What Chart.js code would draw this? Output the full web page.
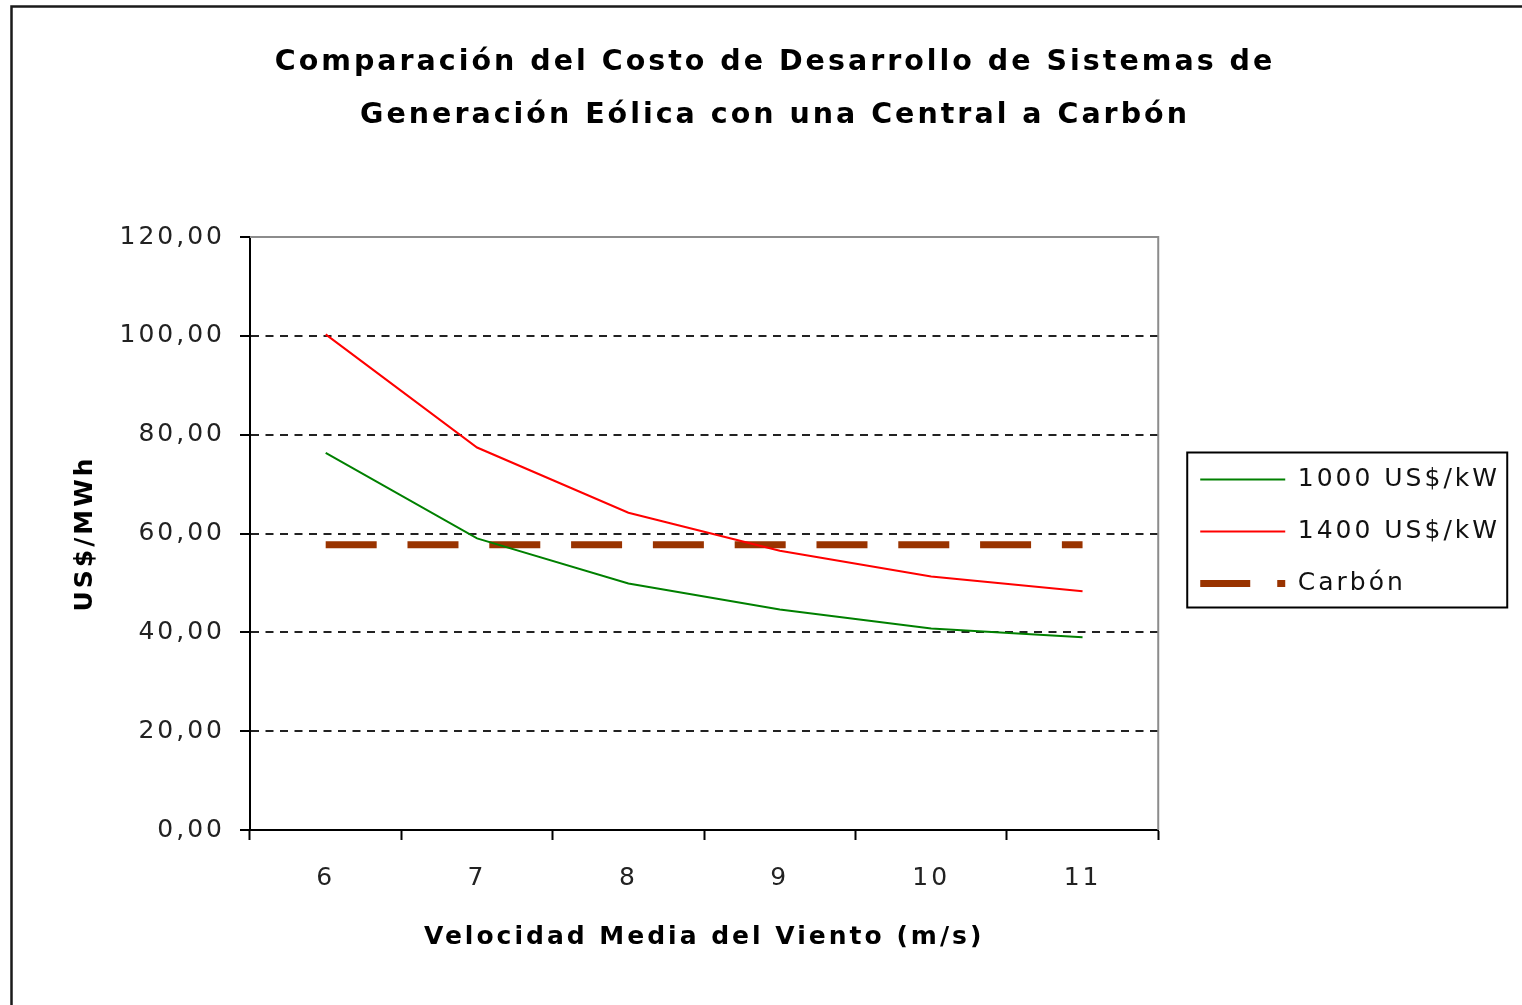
<!DOCTYPE html>
<html lang="es">
<head>
<meta charset="utf-8">
<title>Costo de Desarrollo - Eólica vs Carbón</title>
<script src="https://cdn.jsdelivr.net/npm/chart.js@4.4.1/dist/chart.umd.min.js"></script>
<style>
  html, body { margin: 0; padding: 0; background: #fff; }
  canvas { display: block; }
</style>
</head>
<body>
<canvas id="grafico" width="1522" height="1005"></canvas>
<script>
// velocidad media del viento (m/s)
const velocidades = ['6', '7', '8', '9', '10', '11'];
// costo de generación en US$/MWh
const costo1000 = [76.3, 59.0, 49.9, 44.6, 40.8, 39.0];
const costo1400 = [100.3, 77.4, 64.2, 56.5, 51.3, 48.3];
const costoCarbon = [57.7, 57.7, 57.7, 57.7, 57.7, 57.7];
const nombresSeries = ['1000 US$/kW', '1400 US$/kW', 'Carbón'];
const yMin = 0, yMax = 120, yPaso = 20;

const FUENTE = "'DejaVu Sans', Verdana, sans-serif";

// guiones de la muestra de cada serie en la leyenda
const guionesLeyenda = [[], [], [50, 27, 8, 400]];

// espaciado entre letras para todo el texto del canvas
const espaciado = {
  id: 'espaciado',
  beforeLayout(chart) { chart.ctx.letterSpacing = '3px'; },
  beforeDraw(chart) { chart.ctx.letterSpacing = '3px'; }
};

// borde del área de trazado, marco exterior y recuadro de la leyenda
const marcos = {
  id: 'marcos',
  afterDraw(chart) {
    const ctx = chart.ctx;
    const a = chart.chartArea;
    ctx.save();
    ctx.setLineDash([]);
    ctx.strokeStyle = '#8c8c8c';
    ctx.lineWidth = 2;
    ctx.beginPath();
    ctx.moveTo(a.left, a.top);
    ctx.lineTo(a.right, a.top);
    ctx.lineTo(a.right, a.bottom);
    ctx.stroke();

    ctx.strokeStyle = '#1a1a1a';
    ctx.lineWidth = 2.5;
    ctx.strokeRect(11.5, 6.5, 1600, 1100);

    const hb = chart.legend.legendHitBoxes;
    if (hb && hb.length) {
      const izq = hb[0].left - 13;
      const arriba = hb[0].top + hb[0].height / 2 - 27;
      const abajo = hb[hb.length - 1].top + hb[hb.length - 1].height / 2 + 24;
      ctx.strokeStyle = '#000';
      ctx.lineWidth = 2;
      ctx.strokeRect(izq, arriba, 320, abajo - arriba);
    }
    ctx.restore();
  }
};

new Chart(document.getElementById('grafico'), {
  type: 'line',
  data: {
    labels: velocidades,
    datasets: [
      {
        label: nombresSeries[0],
        data: costo1000,
        borderColor: '#008000',
        backgroundColor: '#008000',
        borderWidth: 2,
        pointRadius: 0,
        tension: 0
      },
      {
        label: nombresSeries[1],
        data: costo1400,
        borderColor: '#ff0000',
        backgroundColor: '#ff0000',
        borderWidth: 2,
        pointRadius: 0,
        tension: 0
      },
      {
        label: nombresSeries[2],
        data: costoCarbon,
        borderColor: '#993300',
        backgroundColor: '#993300',
        borderWidth: 7,
        borderDash: [51, 30.8],
        borderCapStyle: 'butt',
        pointRadius: 0,
        tension: 0
      }
    ]
  },
  options: {
    responsive: false,
    animation: false,
    devicePixelRatio: 1,
    layout: { padding: { left: 40, right: 12, top: 0, bottom: 0 } },
    plugins: {
      tooltip: { enabled: false },
      title: {
        display: true,
        text: ['Comparación del Costo de Desarrollo de Sistemas de',
               'Generación Eólica con una Central a Carbón'],
        color: '#000',
        font: { family: FUENTE, size: 28.5, weight: 'bold', lineHeight: 53 / 28.5 },
        padding: { top: 36.5, bottom: 94.5 }
      },
      legend: {
        position: 'right',
        align: 'center',
        // título vacío: sólo baja un poco el bloque de la leyenda
        title: {
          display: true,
          text: '',
          font: { family: FUENTE, size: 10, lineHeight: 1.2 },
          padding: { top: 0, bottom: 46 }
        },
        labels: {
          color: '#111',
          font: { family: FUENTE, size: 25 },
          boxWidth: 85,
          boxHeight: 0,
          padding: 27,
          generateLabels(chart) {
            const items = Chart.defaults.plugins.legend.labels.generateLabels(chart);
            items.forEach((it, i) => {
              it.lineDash = guionesLeyenda[i];
              it.fillStyle = 'rgba(0,0,0,0)';
              it.lineCap = 'butt';
            });
            return items;
          }
        }
      }
    },
    scales: {
      x: {
        type: 'category',
        offset: true,
        grid: {
          offset: true,
          drawOnChartArea: false,
          drawTicks: true,
          tickLength: 10,
          tickColor: '#000',
          tickWidth: 2,
          tickBorderDash: []
        },
        border: { color: '#000', width: 2 },
        ticks: {
          color: '#222',
          font: { family: FUENTE, size: 25 },
          padding: 23,
          maxRotation: 0,
          autoSkip: false
        },
        title: {
          display: true,
          text: 'Velocidad Media del Viento (m/s)',
          color: '#000',
          font: { family: FUENTE, size: 25, weight: 'bold' },
          padding: { top: 0, bottom: 53 }
        },
        afterFit(s) { s.height = 175; }
      },
      y: {
        min: yMin,
        max: yMax,
        grid: {
          color: c => (c.tick && (c.tick.value === yMin || c.tick.value === yMax)) ? 'rgba(0,0,0,0)' : '#222',
          lineWidth: 2,
          tickLength: 10,
          tickColor: '#000',
          tickWidth: 2,
          tickBorderDash: []
        },
        border: { color: '#000', width: 2, dash: [8, 6.5] },
        ticks: {
          stepSize: yPaso,
          color: '#222',
          font: { family: FUENTE, size: 25 },
          padding: 15,
          callback: v => v.toFixed(2).replace('.', ',')
        },
        title: {
          display: true,
          text: 'US$/MWh',
          color: '#000',
          font: { family: FUENTE, size: 25, weight: 'bold' },
          padding: { top: 30, bottom: 0 }
        },
        afterFit(s) { s.width = 210; }
      },
      // eje auxiliar sin dibujo: separa el área de trazado de la leyenda
      y1: {
        position: 'right',
        display: false,
        afterFit(s) { s.width = 15; }
      }
    }
  },
  plugins: [espaciado, marcos]
});
</script>
</body>
</html>
